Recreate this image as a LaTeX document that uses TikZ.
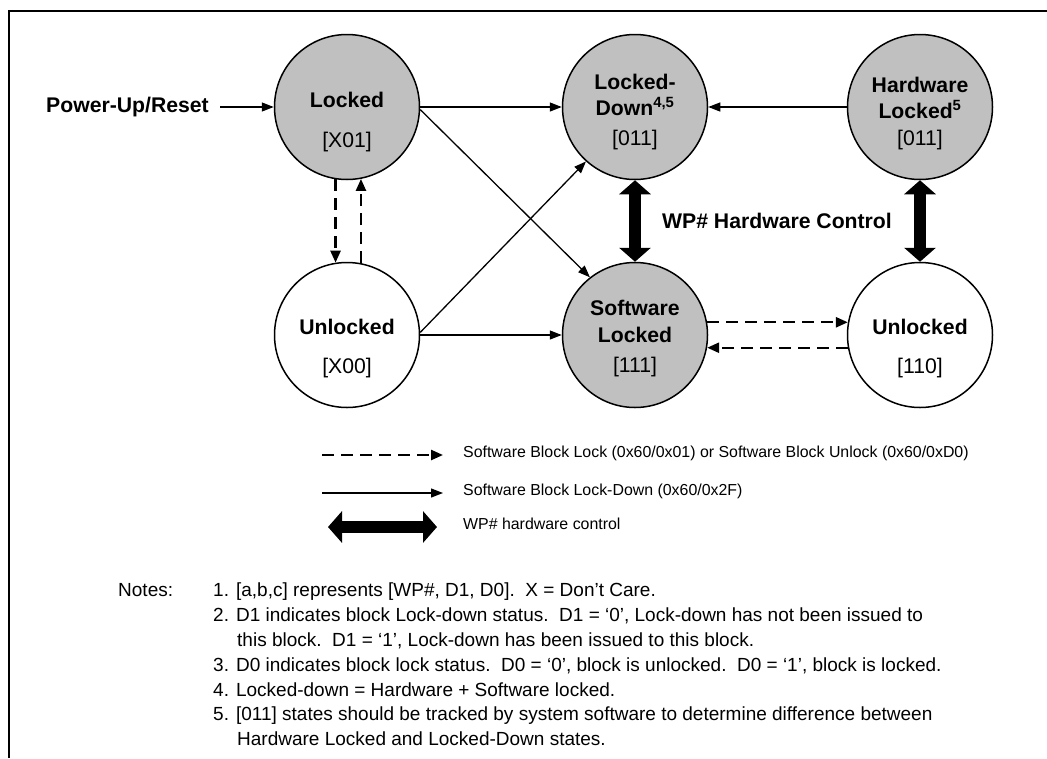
\documentclass[tikz,border=0pt]{standalone}
\usepackage{fontspec}
\setmainfont{Liberation Sans}
\usetikzlibrary{arrows.meta,calc}
\definecolor{lockgray}{RGB}{192,192,192}
\newcommand{\bigfont}{\fontsize{21.2}{25}\selectfont}
\newcommand{\legfont}{\fontsize{15.9}{19}\selectfont}
\newcommand{\notefont}{\fontsize{19}{23}\selectfont}
\newcommand{\stateLine}[4]{\node[txt] (#1) at ($(#2)+(0,#3)$) {#4}}

\tikzset{
  state/.style={draw,circle,line width=1.5pt,minimum size=145pt,inner sep=0pt},
  lockstate/.style={state,fill=lockgray},
  txt/.style={inner sep=0pt,anchor=base,font=\bigfont},
  thinarrow/.style={line width=1.3pt,-{Triangle[length=12pt,width=9pt]}},
  swarrow/.style={line width=2.4pt,dash pattern=on 12pt off 7pt,-{Triangle[length=12pt,width=10pt]}},
  hwarrow/.style={line width=12pt,{Triangle[length=14pt,width=31pt]}-{Triangle[length=14pt,width=31pt]}},
  legtext/.style={anchor=mid west,inner sep=0pt,font=\legfont},
  note/.style={anchor=base west,inner sep=0pt,font=\notefont}
}

\begin{document}
\begin{tikzpicture}[x=1pt,y=-1pt]
		\useasboundingbox (0,0) rectangle (1047,758);
		\draw[line width=2pt] (1047,11) to (9,11) to (9,758);
		
		% states
		\node[lockstate] (lk) at (347,107) {};
		\node[state] (ul) at (347,335) {};
		\node[lockstate] (ld) at (635,107) {};
		\node[lockstate] (sl) at (635,335) {};
		\node[lockstate] (hl) at (920,107) {};
		\node[state] (ur) at (920,335) {};
		
		\stateLine{lkA}{lk}{0}{\textbf{Locked}};
		\stateLine{lkB}{lk}{40}{[X01]};
		\stateLine{ulA}{ul}{-1}{\textbf{Unlocked}};
		\stateLine{ulB}{ul}{38}{[X00]};
		\stateLine{ldA}{ld}{-18}{\textbf{Locked-}};
		\stateLine{ldB}{ld}{8}{\textbf{Down\textsuperscript{4,5}}};
		\stateLine{ldC}{ld}{38}{[011]};
		\stateLine{hlA}{hl}{-15}{\textbf{Hardware}};
		\stateLine{hlB}{hl}{11}{\textbf{Locked\textsuperscript{5}}};
		\stateLine{hlC}{hl}{38}{[011]};
		\stateLine{slA}{sl}{-20}{\textbf{Software}};
		\stateLine{slB}{sl}{7}{\textbf{Locked}};
		\stateLine{slC}{sl}{37}{[111]};
		\stateLine{urA}{ur}{-1}{\textbf{Unlocked}};
		\stateLine{urB}{ur}{38}{[110]};
		
		\node[anchor=east,inner sep=0pt,font=\bigfont] (pwr) at (209,107) {\textbf{Power-Up/Reset}};
		\node[inner sep=0pt,font=\bigfont] (wp) at (777,221) {\textbf{WP\# Hardware Control}};
		
		% transitions
		\begin{scope}[thinarrow]
			\draw ([xshift=11pt]pwr.east) to (lk.west);
			\draw (lk.east) to (ld.west);
			\draw (lk.-2) to (sl.128);
			\draw (ul.east) to (sl.west);
			\draw (ul.2) to (ld.228);
			\draw (hl.west) to (ld.east);
		\end{scope}
		
		\begin{scope}[swarrow]
			\draw (lk.-99) to (ul.99);
			\draw (ul.79) to (lk.-79);
			\draw (sl.10) to (ur.170);
			\draw (ur.190) to (sl.-10);
		\end{scope}
		
		\draw[hwarrow] (ld.south) to (sl.north);
		\draw[hwarrow] (hl.south) to (ur.north);
		
		% legend
		\coordinate (legA1) at (322,455);
		\coordinate (legA2) at (443,455);
		\coordinate (legB1) at (322,493);
		\coordinate (legB2) at (443,493);
		\coordinate (legC1) at (328,527);
		\coordinate (legC2) at (437,527);
		\draw[swarrow] (legA1) to (legA2);
		\draw[thinarrow] (legB1) to (legB2);
		\draw[hwarrow] (legC1) to (legC2);
		\node[legtext] (legA) at (463,455) {Software Block Lock (0x60/0x01) or Software Block Unlock (0x60/0xD0)};
		\node[legtext] (legB) at (463,493) {Software Block Lock-Down (0x60/0x2F)};
		\node[legtext] (legC) at (463,527) {WP\# hardware control};
		
		% notes
		\node[note] (notes) at (118,596) {Notes:};
		\node[note] (note1) at (213,596) {1. [a,b,c] represents [WP\#, D1, D0].\ \ X = Don’t Care.};
		\node[note] (note2) at (213,621) {2. D1 indicates block Lock-down status.\ \ D1 = ‘0’, Lock-down has not been issued to};
		\node[note] (note2b) at (237,646) {this block.\ \ D1 = ‘1’, Lock-down has been issued to this block.};
		\node[note] (note3) at (213,671) {3. D0 indicates block lock status.\ \ D0 = ‘0’, block is unlocked.\ \ D0 = ‘1’, block is locked.};
		\node[note] (note4) at (213,696) {4. Locked-down = Hardware + Software locked.};
		\node[note] (note5) at (213,720) {5. [011] states should be tracked by system software to determine difference between};
		\node[note] (note5b) at (237,745) {Hardware Locked and Locked-Down states.};
	\end{tikzpicture}
\end{document}
